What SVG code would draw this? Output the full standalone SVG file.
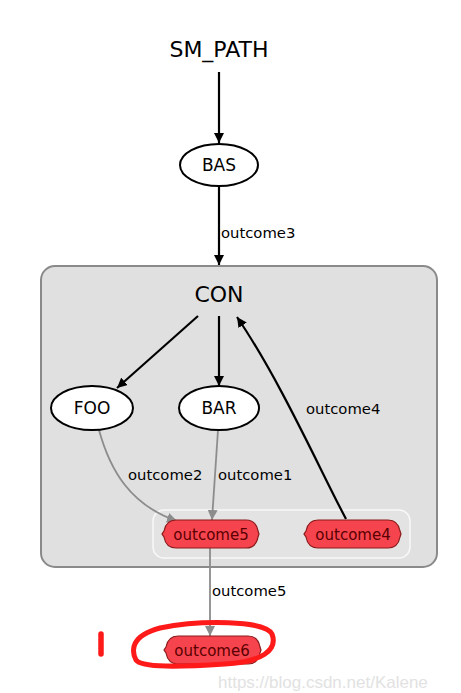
<svg xmlns="http://www.w3.org/2000/svg" width="461" height="693" viewBox="0 0 461 693">
<defs>
<style>
text{font-family:"DejaVu Sans","Liberation Sans",sans-serif;fill:#000}
.big{font-size:22px;text-anchor:middle}
.nl{font-size:17px;text-anchor:middle}
.el{font-size:14.8px}
.ol{font-size:15px;text-anchor:middle;fill:#5a0000}
.st{fill:#fff;stroke:#000;stroke-width:2}
.out{fill:#f5444e;stroke:#8b1a1a;stroke-width:1.2}
.bk{stroke:#000;stroke-width:2.2;fill:none}
.gr{stroke:#8c8c8c;stroke-width:1.8;fill:none}
</style>
<marker id="ab" markerWidth="10" markerHeight="10" viewBox="0 0 10 10" refX="10" refY="5" orient="auto" markerUnits="userSpaceOnUse"><path d="M0,0 L10,5 L0,10 Z" fill="#000"/></marker>
<marker id="ag" markerWidth="10" markerHeight="10" viewBox="0 0 10 10" refX="10" refY="5" orient="auto" markerUnits="userSpaceOnUse"><path d="M0,0 L10,5 L0,10 Z" fill="#8c8c8c"/></marker>
</defs>
<rect width="461" height="693" fill="#fff"/>
<g id="CON_container">
<rect x="41" y="266" width="396" height="301" rx="14" fill="#e0e0e0" stroke="#8a8a8a" stroke-width="2"/>
<rect x="153" y="510" width="257" height="48" rx="11" fill="#e3e3e3" stroke="#f8f8f8" stroke-width="1.5"/>
</g>
<g id="connectors">
<line class="bk" x1="219" y1="72" x2="219" y2="143" marker-end="url(#ab)"/>
<line class="bk" x1="219" y1="186" x2="219" y2="265" marker-end="url(#ab)"/>
<text class="el" x="221" y="238">outcome3</text>
<line class="bk" x1="198" y1="316" x2="117" y2="388" marker-end="url(#ab)"/>
<line class="bk" x1="219" y1="316" x2="219" y2="386" marker-end="url(#ab)"/>
<path class="bk" d="M346,519 C320,470 280,380 237,317" marker-end="url(#ab)"/>
<text class="el" x="306" y="414">outcome4</text>
<path class="gr" d="M99,430 C110,470 130,505 177,521" marker-end="url(#ag)"/>
<text class="el" x="128" y="480">outcome2</text>
<line class="gr" x1="218" y1="430" x2="212" y2="520" marker-end="url(#ag)"/>
<text class="el" x="218" y="480">outcome1</text>
<line class="gr" x1="210" y1="548" x2="210" y2="636" marker-end="url(#ag)"/>
<text class="el" x="212" y="596">outcome5</text>
</g>
<g id="SM_PATH"><text class="big" x="219" y="57">SM_PATH</text></g>
<g id="BAS"><ellipse class="st" cx="219" cy="165" rx="39" ry="21"/><text class="nl" x="219" y="171">BAS</text></g>
<g id="CON"><text class="big" x="219" y="302">CON</text></g>
<g id="FOO"><ellipse class="st" cx="92" cy="408" rx="41" ry="22"/><text class="nl" x="92" y="414">FOO</text></g>
<g id="BAR"><ellipse class="st" cx="219" cy="408" rx="40" ry="22"/><text class="nl" x="219" y="414">BAR</text></g>
<g id="outcome5"><path class="out" d="M176,520 H246 Q256,520 258,531 L259,534 L258,537 Q256,548 246,548 H176 Q166,548 164,537 L162,534 L164,531 Q166,520 176,520 Z"/><text class="ol" x="211" y="539.5">outcome5</text></g>
<g id="outcome4"><path class="out" d="M318,520 H388 Q398,520 400,531 L401,534 L400,537 Q398,548 388,548 H318 Q308,548 306,537 L304,534 L306,531 Q308,520 318,520 Z"/><text class="ol" x="353" y="539.5">outcome4</text></g>
<g id="outcome6"><path class="out" d="M178,636 H248 Q258,636 260,647 L261,650 L260,653 Q258,664 248,664 H178 Q168,664 166,653 L164,650 L166,647 Q168,636 178,636 Z"/><text class="ol" x="212" y="655.5">outcome6</text></g>
<g id="annotation">
<path d="M160,628 C200,620 265,620 272,634 C278,650 262,662 225,664 C180,667 142,668 136,660 C131,650 131,636 160,628 Z" fill="none" stroke="#ff1a1a" stroke-width="5" stroke-linecap="round"/>
<line x1="101" y1="634" x2="101" y2="654" stroke="#ff1a1a" stroke-width="5.5" stroke-linecap="round"/>
</g>
<text x="218" y="688" style="font-family:'Liberation Sans',Arial,sans-serif;font-size:17px;fill:#e2e2e2">https://blog.csdn.net/Kalene</text>
</svg>
